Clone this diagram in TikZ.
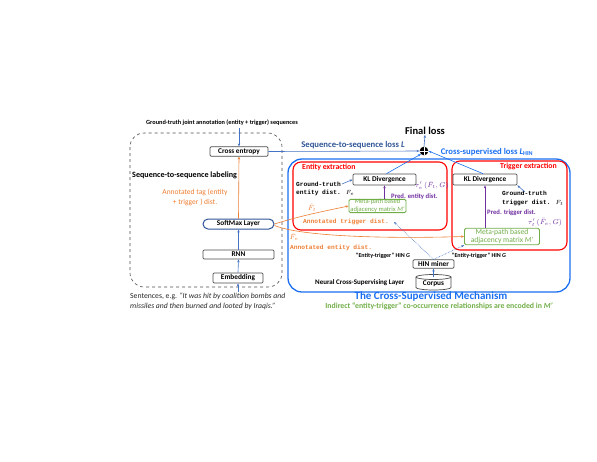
\documentclass[tikz,border=0pt]{standalone}
\usepackage{fontspec}
\setmainfont{Carlito}
\newfontfamily\monof{Liberation Mono}
\usetikzlibrary{arrows.meta}
\definecolor{cor}{HTML}{ED7D31}
\definecolor{cgr}{HTML}{70AD47}
\definecolor{cpu}{HTML}{7030A0}
\definecolor{cbl}{HTML}{1A6FF0}
\definecolor{cdb}{HTML}{2F5597}
\definecolor{cab}{HTML}{4472C4}
\begin{document}
\begin{tikzpicture}[x=1pt,y=-1pt,
  box/.style={draw=black!70, line width=0.7pt, rounded corners=1.2pt, fill=white, inner sep=0pt, font=\fontsize{7.3}{8.5}\selectfont\bfseries},
  gbox/.style={draw=cgr, line width=0.9pt, rounded corners=1.5pt, fill=white, inner sep=0pt, text=cgr, align=center},
  lbl/.style={inner sep=0pt, font=\fontsize{6.5}{7.8}\selectfont\bfseries},
  mlbl/.style={inner sep=0pt, align=left, font=\fontsize{6.2}{8.2}\selectfont\monof\bfseries},
  arr/.style={-{Stealth[length=3pt,width=2.4pt]}, line width=0.6pt},
]
\useasboundingbox (0,0) rectangle (597,461);

% containers
\draw[black!70, dashed, line width=0.6pt, rounded corners=14pt] (130,133) rectangle (282,287);
\draw[cbl, line width=1.3pt, rounded corners=14pt] (288,159) rectangle (570,292);
\draw[red, line width=1.1pt, rounded corners=8pt] (293,162) rectangle (447,230);
\draw[red, line width=1.1pt, rounded corners=8pt] (452,161) rectangle (567,250);

% left column
\node[lbl, font=\fontsize{6.3}{7.5}\selectfont\bfseries] (gt) at (222,123) {Ground-truth joint annotation (entity + trigger) sequences};
\coordinate (gtout) at (239,128);
\node[box, minimum width=58, minimum height=9.5] (ce) at (239,151.5) {Cross entropy};
\node[lbl, anchor=west, font=\fontsize{8.1}{9.5}\selectfont\bfseries] (s2sl) at (132,175) {Sequence-to-sequence labeling};
\node[inner sep=0pt, align=center, text=cor, font=\fontsize{7.5}{9.8}\selectfont] (atag) at (195,197) {Annotated tag (entity\\+ trigger ) dist.};
\node[box, draw=cdb, line width=1pt, rounded corners=5pt, minimum width=71, minimum height=10] (sm) at (238.5,224) {SoftMax Layer};
\node[box, minimum width=71, minimum height=9] (rnn) at (238.5,254.5) {RNN};
\node[box, minimum width=50, minimum height=10] (emb) at (238,278) {Embedding};
\node[inner sep=0pt, anchor=north west, align=left, text=black!85, font=\fontsize{7.7}{10}\selectfont] (sent) at (130,292.5) {Sentences, e.g. \textit{``It was hit by coalition bombs and}\\\textit{missiles and then burned and looted by Iraqis.''}};
\coordinate (sentin) at (238,292);

% final loss
\node[inner sep=0pt, font=\fontsize{10.5}{12}\selectfont\bfseries] (fl) at (425,131) {Final loss};
\node[circle, fill=black, minimum size=8.6pt, inner sep=0pt,
  path picture={\draw[white,line width=0.8pt] (path picture bounding box.north) -- (path picture bounding box.south) (path picture bounding box.west) -- (path picture bounding box.east);}] (plus) at (424,151) {};
\node[lbl, text=cdb, font=\fontsize{8.7}{10}\selectfont\bfseries] (s2sloss) at (353,145) {Sequence-to-sequence loss \textit{L}};
\node[lbl, text=cbl, font=\fontsize{8.7}{10}\selectfont\bfseries] (csloss) at (487,152.5) {Cross-supervised loss \textit{L}\textsubscript{HIN}};

% entity extraction
\node[lbl, text=red, anchor=west, font=\fontsize{7.8}{9}\selectfont\bfseries] (ee) at (302,167.5) {Entity extraction};
\node[box, minimum width=63, minimum height=11] (kle) at (384.5,179.5) {KL Divergence};
\node[mlbl, anchor=west] (gte) at (296,188.5) {Ground-truth\\entity dist. $F_e$};
\node[inner sep=0pt, text=cpu, font=\fontsize{7}{8}\selectfont] (taue) at (432,186) {$\tau'_e\,(\bar{F}_t, G)$};
\node[lbl, text=cpu, anchor=west, font=\fontsize{6.7}{8}\selectfont\bfseries] (pe) at (391,196.5) {Pred. entity dist.};
\node[gbox, minimum width=57, minimum height=12, font=\fontsize{6.6}{7.6}\selectfont] (mpe) at (377.5,206) {Meta-path based\\adjacency matrix \textit{M'}};
\node[inner sep=0pt, text=cor, font=\fontsize{7}{8}\selectfont] (fte) at (312,208) {$\bar{F}_t$};
\node[mlbl, text=cor, anchor=west] (atd) at (303,222) {Annotated trigger dist.};
\node[inner sep=0pt, text=cor, font=\fontsize{7}{8}\selectfont] (fee) at (294,237.5) {$\bar{F}_e$};
\node[mlbl, text=cor, anchor=west] (aed) at (290,248) {Annotated entity dist.};

% trigger extraction
\node[lbl, text=red, anchor=east, font=\fontsize{7.8}{9}\selectfont\bfseries] (te) at (557,166.5) {Trigger extraction};
\node[box, minimum width=64, minimum height=11] (klt) at (485,179.5) {KL Divergence};
\node[mlbl, anchor=west] (gtt) at (502,198.5) {Ground-truth\\trigger dist. $F_t$};
\node[lbl, text=cpu, anchor=west, font=\fontsize{6.7}{8}\selectfont\bfseries] (pt) at (487,213) {Pred. trigger dist.};
\node[inner sep=0pt, text=cpu, font=\fontsize{7}{8}\selectfont] (taut) at (545,222.5) {$\tau'_t\,(\bar{F}_e, G)$};
\node[gbox, minimum width=75, minimum height=16.5, font=\fontsize{7.6}{8.4}\selectfont] (mpt) at (502,236.5) {Meta-path based\\adjacency matrix \textit{M'}};

% HIN / corpus
\node[lbl, font=\fontsize{6}{7}\selectfont\bfseries] (hge) at (383,256) {``Entity-trigger'' HIN \textit{G}};
\node[lbl, font=\fontsize{6}{7}\selectfont\bfseries] (hgt) at (479,256) {``Entity-trigger'' HIN \textit{G}};
\node[box, minimum width=41, minimum height=8.5] (hin) at (433.5,264) {HIN miner};
\draw[black!70, line width=0.7pt, fill=white] (416,277) -- (416,287.5) arc[start angle=180,end angle=0,x radius=17.5,y radius=2.5] -- (451,277);
\draw[black!70, line width=0.7pt, fill=white] (433.5,277) ellipse[x radius=17.5,y radius=2.5];
\node[lbl, font=\fontsize{7.3}{8.5}\selectfont\bfseries, minimum width=35, minimum height=12] (corpus) at (433.5,283.5) {Corpus};
\node[lbl, anchor=west, font=\fontsize{7}{8}\selectfont\bfseries] (ncsl) at (315,283) {Neural Cross-Supervising Layer};
\node[inner sep=0pt, text=cbl, font=\fontsize{11}{13}\selectfont\bfseries] (csm) at (431,297) {The Cross-Supervised Mechanism};
\node[inner sep=0pt, text=cgr, font=\fontsize{7.8}{9}\selectfont\bfseries] (ind) at (439,306.5) {Indirect ``entity-trigger'' co-occurrence relationships are encoded in \textit{M'}};
\coordinate (mpein) at (394,222);
\coordinate (gteout) at (342,184);
\coordinate (gttout) at (525,192);

% connectors
\draw[arr, cab] (gtout) -- (ce.north);
\draw[arr, cor] (sm.north) -- (ce.south);
\draw[arr, cab] (rnn.north) -- (sm.south);
\draw[arr, cab] (emb.north) -- (rnn.south);
\draw[arr, cab] (sentin) -- (emb.south);
\draw[arr, cab] (ce.east) -- (plus.west);
\draw[arr, cab] (plus.north) -- (fl.south);
\draw[arr, cbl] (kle.north) ++(2,0) -- (plus.south west);
\draw[arr, cbl] (klt.north) ++(-2,0) -- (plus.east);
\draw[arr, cab] (gteout) -- (kle.west);
\draw[arr, cab] (gttout) -- (klt.south east);
\draw[arr, cpu] (mpe.north) ++(7,0) -- (kle.south);
\draw[arr, cpu] (mpt.north) ++(-17,0) -- (klt.south);
\draw[arr, cor] (sm.east) .. controls (300,216) and (320,212) .. (mpe.west);
\draw[arr, cor] (sm.east) ++(0,1.5) .. controls (300,236) and (380,239) .. (mpt.west);
\draw[arr, cab] (corpus.north) -- (hin.south);
\draw[arr, cab, densely dotted] (hin.north) -- (mpein);
\draw[arr, cab, densely dotted] (hin.north) -- (mpt.south west);
\end{tikzpicture}
\end{document}
